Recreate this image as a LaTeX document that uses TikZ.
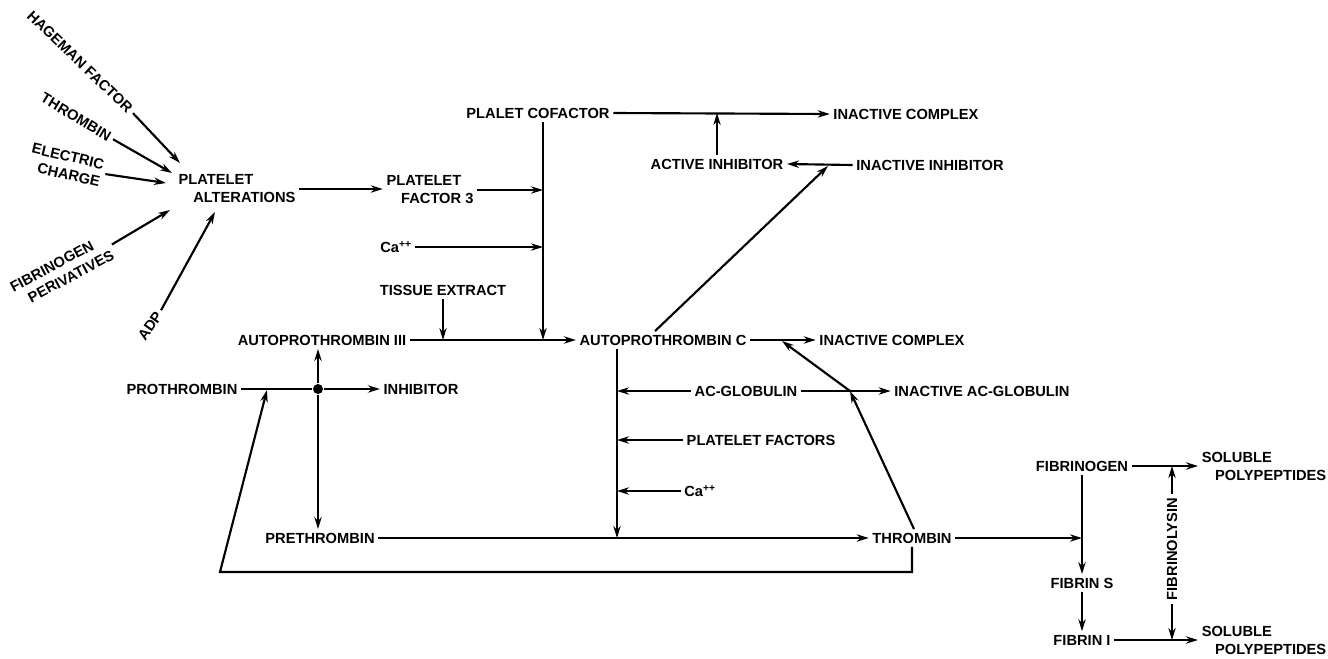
\documentclass[tikz,border=0pt]{standalone}
\usepackage{fontspec}
\setmainfont{Liberation Sans}
\usetikzlibrary{arrows.meta,calc}
\begin{document}
\begin{tikzpicture}[x=0.75pt,y=-0.75pt,line width=1.6pt,
  lbl/.style={font=\bfseries\fontsize{11}{13.5}\selectfont,inner sep=2pt,align=center},
  arr/.style={-{Stealth[length=9pt,width=5.5pt]}},
  dotnode/.style={circle,fill,inner sep=0pt,minimum size=7.5pt}]
\useasboundingbox (0,0) rectangle (1328,658);

% --- platelet inputs ---
\node[lbl,rotate=-44] (hag) at (80,62) {HAGEMAN FACTOR};
\node[lbl,rotate=-31] (thr0) at (76,117) {THROMBIN};
\node[lbl,rotate=-13,align=right] (ele) at (66,165) {ELECTRIC\\CHARGE};
\node[lbl,rotate=28,align=left] (fdv) at (62,271) {FIBRINOGEN\\\hspace*{8pt}PERIVATIVES};
\node[lbl,rotate=55] (adp) at (150,326) {ADP};
\node[lbl,align=left] (pa) at (237,189) {PLATELET\\\hspace*{11pt}ALTERATIONS};
\coordinate (pa1) at (180,163);
\coordinate (pa2) at (172,173);
\coordinate (pa3) at (166,183);
\coordinate (pa4) at (170,210);
\coordinate (pa5) at (215,212);
\draw[arr] (hag.east) -- (pa1);
\draw[arr] (thr0.east) -- (pa2);
\draw[arr] (ele.east) -- (pa3);
\draw[arr] (fdv.east) -- (pa4);
\draw[arr] (adp.east) -- (pa5);

% --- upper middle ---
\node[lbl,align=left] (pf3) at (430,190) {PLATELET\\\hspace*{11pt}FACTOR 3};
\draw[arr] (pa.east) -- (pa.east -| pf3.west);
\node[lbl] (cof) at (538,113) {PLALET COFACTOR};
\node[lbl] (ca1) at (396,247) {Ca\textsuperscript{++}};
\node[lbl] (tis) at (443,290) {TISSUE EXTRACT};
\node[lbl] (a3) at (322,340) {AUTOPROTHROMBIN III};
\node[lbl] (ac) at (663,340) {AUTOPROTHROMBIN C};
\coordinate (j1) at (543,340);
\coordinate (j2) at (443,340);
\draw[arr] (j1 |- cof.south) -- (j1);
\draw[arr] (pf3.east) -- (pf3.east -| j1);
\draw[arr] (ca1.east) -- (ca1.east -| j1);
\draw[arr] (tis.south) -- (j2);
\draw[arr] (a3.east) -- (ac.west);

% --- inhibitor branch ---
\node[lbl] (ic1) at (906,114) {INACTIVE COMPLEX};
\node[lbl] (ai) at (717,164) {ACTIVE INHIBITOR};
\node[lbl] (ii) at (930,165) {INACTIVE INHIBITOR};
\draw[arr] (cof.east) -- (ic1.west);
\draw[arr] (ai.north) -- (ai.north |- cof.east);
\draw[arr] (ii.west) -- (ai.east);
\coordinate (dtip) at (828,166);
\draw[arr] ($(ac.north)+(-8,0)$) -- (dtip);

% --- autoprothrombin C region ---
\node[lbl] (ic2) at (892,340) {INACTIVE COMPLEX};
\draw[arr] (ac.east) -- (ic2.west);
\node[lbl] (acg) at (746,391) {AC-GLOBULIN};
\node[lbl] (iacg) at (982,391) {INACTIVE AC-GLOBULIN};
\draw[arr] (acg.east) -- (iacg.west);
\node[lbl] (pfs) at (761,440) {PLATELET FACTORS};
\node[lbl] (ca2) at (700,491) {Ca\textsuperscript{++}};
\coordinate (j3) at (617,538);
\draw[arr] (ac.south -| j3) -- (j3);
\draw[arr] (acg.west) -- (acg.west -| j3);
\draw[arr] (pfs.west) -- (pfs.west -| j3);
\draw[arr] (ca2.west) -- (ca2.west -| j3);

% --- prothrombin / prethrombin / thrombin ---
\node[lbl] (pro) at (182,389) {PROTHROMBIN};
\node[dotnode] (dot) at (318,389) {};
\node[lbl] (inh) at (421,389) {INHIBITOR};
\node[lbl] (pre) at (320,538) {PRETHROMBIN};
\node[lbl] (thr) at (912,538) {THROMBIN};
\draw (pro.east) -- (dot);
\draw[arr] (dot) -- (inh.west);
\draw[arr] (dot) -- (dot |- a3.south);
\draw[arr] (dot) -- (dot |- pre.north);
\draw[arr] (pre.east) -- (thr.west);
\coordinate (k2) at (850,391);
\coordinate (k1) at (782,341);
\draw[arr] ($(thr.north)+(2,0)$) -- (k2);
\draw[arr] (k2) -- (k1);
\coordinate (lp) at (220,572);
\coordinate (k3) at (267,390);
\draw[arr] (thr.south) -- (thr.south |- lp) -- (lp) -- (k3);

% --- fibrin ---
\node[lbl] (fgn) at (1082,466) {FIBRINOGEN};
\node[lbl] (fs) at (1082,583) {FIBRIN S};
\node[lbl] (fi) at (1082,640) {FIBRIN I};
\coordinate (k4) at (1082,538);
\draw[arr] (thr.east) -- (k4);
\draw[arr] (fgn.south) -- (fs.north);
\draw[arr] (fs.south) -- (fi.north);
\node[lbl,align=left] (sp1) at (1264,466) {SOLUBLE\\\hspace*{10pt}POLYPEPTIDES};
\node[lbl,align=left] (sp2) at (1264,640) {SOLUBLE\\\hspace*{10pt}POLYPEPTIDES};
\draw[arr] (fgn.east) -- (fgn.east -| sp1.west);
\draw[arr] (fi.east) -- (fi.east -| sp2.west);
\node[lbl,rotate=90] (fl) at (1172,549) {FIBRINOLYSIN};
\draw[arr] (fl.east) -- (fl.east |- fgn.east);
\draw[arr] (fl.west) -- (fl.west |- fi.east);
\end{tikzpicture}
\end{document}
